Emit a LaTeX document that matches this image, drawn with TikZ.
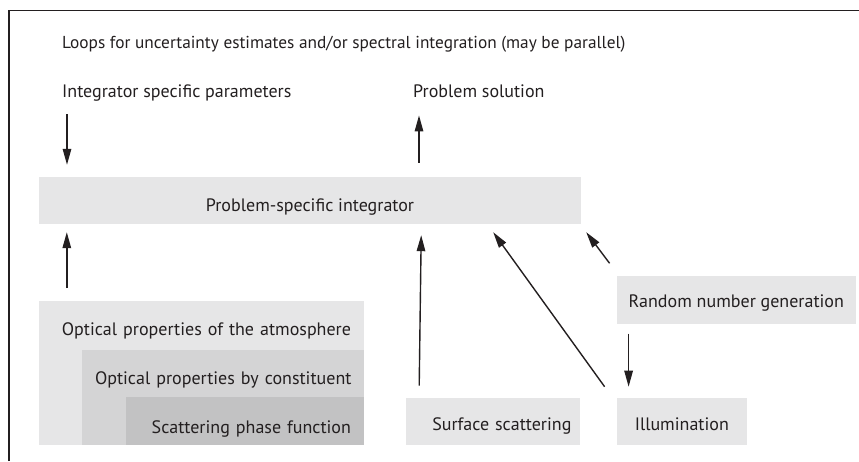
\documentclass[tikz,border=0pt]{standalone}
\usepackage{fontspec}
\setmainfont{PT Sans}
\usetikzlibrary{arrows.meta,positioning,calc}
\definecolor{paleGray}{rgb}{0.902,0.902,0.906}
\definecolor{midGray}{rgb}{0.831,0.831,0.835}
\definecolor{darkGray}{rgb}{0.761,0.761,0.765}
\definecolor{inkGray}{rgb}{0.137,0.122,0.125}

\begin{document}
\begin{tikzpicture}[x=1pt, y=1pt,
			textStyle/.style={text=inkGray, font=\fontsize{18}{21}\selectfont, inner sep=0pt},
			boxStyle/.style={textStyle, fill=paleGray, align=center},
			nestStyle/.style={boxStyle, align=right, inner xsep=13pt, text height=34pt},
			arrowStyle/.style={-{Triangle[length=16pt, width=8.5pt]}, line width=1.4pt, inkGray},]
			
			\useasboundingbox (0,0) rectangle (859,-461);
			\draw[line width=1.8pt, inkGray] (9,-461) -- (9,-10.5) -- (859,-10.5);
			
			\node[textStyle, font=\fontsize{17.3}{20}\selectfont, anchor=base west] (loops) at (62,-48) {Loops for uncertainty estimates and/or spectral integration (may be parallel)};
			\node[textStyle, anchor=base west] (params) at (62,-97) {Integrator specific parameters};
			\node[textStyle, anchor=base west] (solution) at (413,-97) {Problem solution};
			
			\node[boxStyle, minimum width=542pt, text height=34pt, text depth=13pt] (integ) at (310,-200.5) {Problem-specific integrator};
			
			\node[nestStyle, below right=77pt and 0pt of integ.south west, text width=299pt, text depth=110pt] (atmos) {Optical properties of the atmosphere};
			\node[nestStyle, fill=midGray, anchor=south east, text width=256pt, text depth=61pt] (constit) at (atmos.south east) {Optical properties by constituent};
			\node[nestStyle, fill=darkGray, anchor=south east, text width=212pt, text height=36pt, text depth=12pt] (scatter) at (atmos.south east) {Scattering phase function};
			
			\begin{scope}[every node/.style={boxStyle, text height=33pt, text depth=14pt}]
				\node[right=42pt of scatter, text width=156pt, align=right, inner xsep=9pt] (surface) {Surface scattering};
				\node[right=36pt of surface, minimum width=130pt] (illum) {Illumination};
				\node[above right=74pt and 0pt of illum.north west, minimum width=239pt, text height=32pt, text depth=16pt] (random) {Random number generation};
			\end{scope}
			
			%%%%%%%%%%%
			\draw[arrowStyle] ([xshift=5pt, yshift=-13pt]params.south west) -- ([xshift=5pt, yshift=12pt]params.south west |- integ.north);
			\draw[arrowStyle] ([xshift=6pt, yshift=14pt]solution.south west |- integ.north) -- ([xshift=6pt, yshift=-18pt]solution.south west);
			\draw[arrowStyle] ([xshift=28pt, yshift=13pt]atmos.north west) -- ([xshift=28pt, yshift=-8pt]atmos.north west |- integ.south);
			\draw[arrowStyle] ([xshift=13pt, yshift=12pt]surface.north west) -- ([xshift=15pt, yshift=-11pt]surface.north west |- integ.south);
			\draw[arrowStyle] ([xshift=-12pt, yshift=11pt]illum.north west) -- ([xshift=-88pt, yshift=-8pt]integ.south east);
			\draw[arrowStyle] ([xshift=-7pt, yshift=12pt]random.north west) -- ([xshift=5pt, yshift=-8pt]integ.south east);
			\draw[arrowStyle] ([xshift=12pt, yshift=-10pt]random.south west) -- ([xshift=12pt, yshift=11pt]illum.north west);
		\end{tikzpicture}
\end{document}
